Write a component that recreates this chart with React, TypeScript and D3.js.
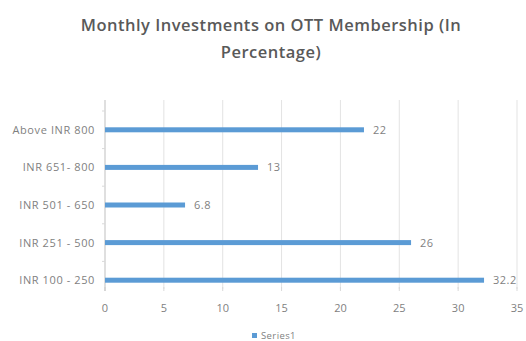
import React from "react";
import * as d3 from "d3";

const categories = ["Above INR 800", "INR 651- 800", "INR 501 - 650", "INR 251 - 500", "INR 100 - 250"];
const values = [22, 13, 6.8, 26, 32.2];
const valueLabels = ["22", "13", "6.8", "26", "32.2"];
const xTicks = [0, 5, 10, 15, 20, 25, 30, 35];
const titleLines = ["Monthly Investments on OTT Membership (In", "Percentage)"];
const seriesName = "Series1";

export default function App() {
  const W = 526, H = 341;
  const x = d3.scaleLinear().domain([0, 35]).range([105, 517]);
  const y = d3.scaleBand<string>().domain(categories).range([111, 299]).paddingInner(0).paddingOuter(0);
  const gridTop = 100, gridBottom = 289;
  const blue = "#5B9BD5";
  const txt = "#7f7f7f";
  return (
    <svg width={W} height={H} style={{ position: "absolute", left: 0, top: 0, background: "#fff" }}
      fontFamily="'Open Sans', 'Liberation Sans', sans-serif">
      {titleLines.map((t, i) => (
        <text key={i} x={271} y={31 + i * 27} textAnchor="middle" fontSize={16.5} fontWeight={600} letterSpacing={0.5} fill="#595959">{t}</text>
      ))}
      {xTicks.map((t) => (
        <g key={t}>
          {t > 0 && <line x1={x(t)} x2={x(t)} y1={gridTop} y2={gridBottom} stroke="#e3e3e3" strokeWidth={1} />}
          <line x1={x(t)} x2={x(t)} y1={gridBottom - 2} y2={gridBottom + 2} stroke="#d9d9d9" />
          <text x={x(t)} y={312} textAnchor="middle" fontSize={11} fill={txt}>{t}</text>
        </g>
      ))}
      <line x1={x(0)} x2={x(0)} y1={gridTop} y2={gridBottom + 2} stroke="#bfbfbf" />
      {categories.map((c, i) => {
        const cy = (y(c) as number) + y.bandwidth() / 2;
        return (
          <g key={c}>
            <line x1={x(0) - 3} x2={x(0)} y1={(y(c) as number)} y2={(y(c) as number)} stroke="#d9d9d9" />
            <text x={95} y={cy + 4} textAnchor="end" fontSize={11} letterSpacing={0.6} fill={txt}>{c}</text>
            <rect x={x(0)} y={cy - 2.5} width={x(values[i]) - x(0)} height={5} fill={blue} />
            <text x={x(values[i]) + 9} y={cy + 4} fontSize={11} letterSpacing={0.5} fill={txt}>{valueLabels[i]}</text>
          </g>
        );
      })}
      <rect x={252} y={333} width={5} height={5} fill={blue} />
      <text x={261} y={339} fontSize={9.5} letterSpacing={0.4} fill={txt}>{seriesName}</text>
    </svg>
  );
}
